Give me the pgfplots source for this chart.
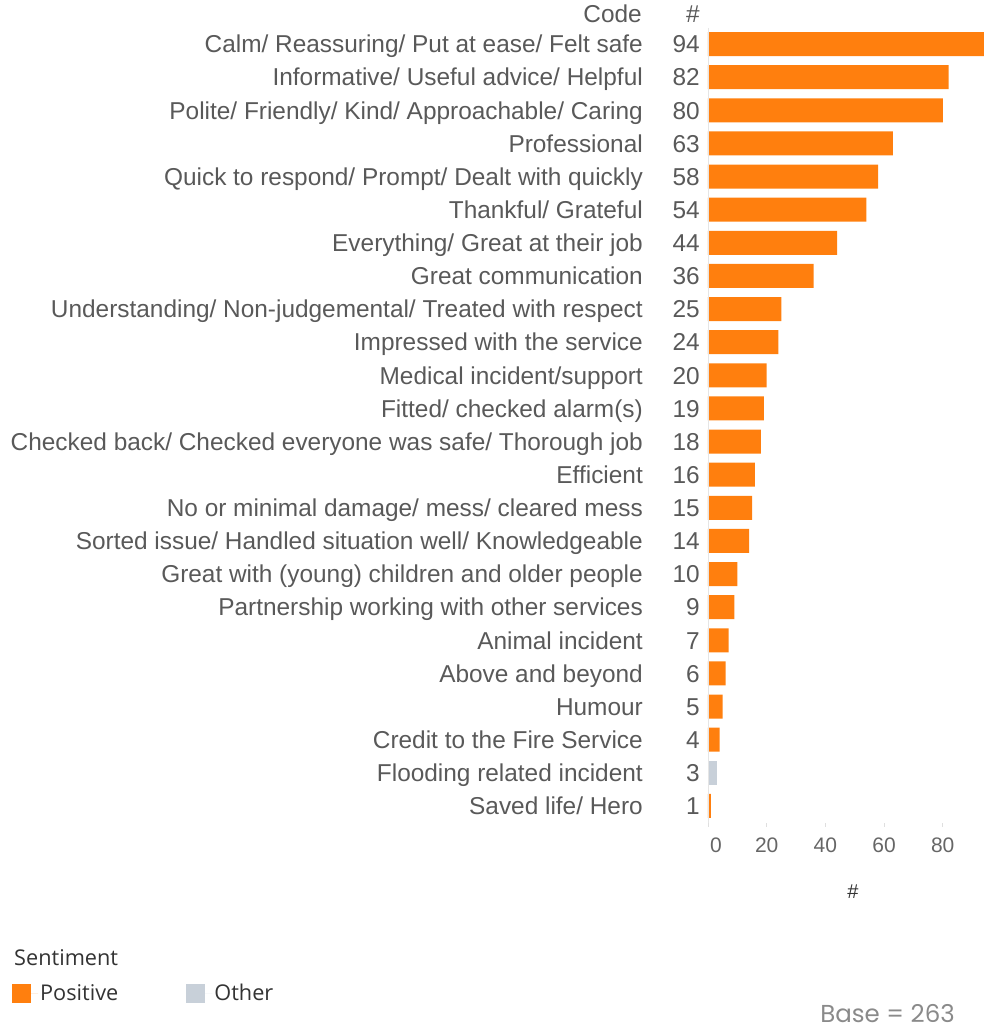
\documentclass[border=0pt]{standalone}
\usepackage{fontspec}
\setmainfont{Liberation Sans}
\newfontfamily\legfont{Open Sans}
\newfontfamily\basefont{Poppins}
\usepackage{pgfplots}
\usepackage{pgfplotstable}
\pgfplotsset{compat=1.18}
\definecolor{posorange}{HTML}{FF7F0E}
\definecolor{othergray}{HTML}{C8D0D9}
\definecolor{labgray}{HTML}{595959}
\definecolor{tickgray}{HTML}{666666}
\definecolor{leggray}{HTML}{333333}
\definecolor{basegray}{HTML}{8A8A8A}

\pgfplotstableread{
y val
0 94
1 82
2 80
3 63
4 58
5 54
6 44
7 36
8 25
9 24
10 20
11 19
12 18
13 16
14 15
15 14
16 10
17 9
18 7
19 6
20 5
21 4
23 1
}\postable
\pgfplotstableread{
y val
22 3
}\othtable

\begin{document}
\begin{tikzpicture}
\path[use as bounding box] (0pt,0pt) rectangle (986pt,-1029pt);
\begin{axis}[
  at={(708pt,-27.5pt)}, anchor=north west,
  scale only axis, width=277.3pt, height=795pt,
  xmin=0, xmax=94.5, ymin=-0.5, ymax=23.5, y dir=reverse,
  axis x line*=bottom, axis y line*=left,
  axis line style={draw=none},
  xtick={20,40,60,80},
  extra x ticks={0},
  extra x tick style={xticklabel style={xshift=8pt}},
  ytick={0,...,23},
  yticklabels={
    {Calm/ Reassuring/ Put at ease/ Felt safe},
    {Informative/ Useful advice/ Helpful},
    {Polite/ Friendly/ Kind/ Approachable/ Caring},
    {Professional},
    {Quick to respond/ Prompt/ Dealt with quickly},
    {Thankful/ Grateful},
    {Everything/ Great at their job},
    {Great communication},
    {Understanding/ Non-judgemental/ Treated with respect},
    {Impressed with the service},
    {Medical incident/support},
    {Fitted/ checked alarm(s)},
    {Checked back/ Checked everyone was safe/ Thorough job},
    {Efficient},
    {No or minimal damage/ mess/ cleared mess},
    {Sorted issue/ Handled situation well/ Knowledgeable},
    {Great with (young) children and older people},
    {Partnership working with other services},
    {Animal incident},
    {Above and beyond},
    {Humour},
    {Credit to the Fire Service},
    {Flooding related incident},
    {Saved life/ Hero}},
  yticklabel style={anchor=base east, inner sep=0pt, xshift=-61pt, yshift=-8.7pt, text=labgray,
    font=\fontsize{24.4}{28}\selectfont},
  ytick style={draw=none},
  xtick style={draw=gray!25, line width=0.6pt},
  tick align=outside, major tick length=4pt,
  xticklabel style={inner sep=0pt, yshift=-11pt, text=tickgray,
    font=\fontsize{21}{25}\selectfont},
  /pgf/number format/assume math mode=true,
  xlabel={\#},
  xlabel style={at={(axis description cs:0.523,-0.087)}, anchor=center,
    font=\fontsize{20}{24}\selectfont, text=leggray},
  legend style={at={(axis description cs:-2.51,-0.2006)}, anchor=north west,
    draw=none, fill=none, inner sep=0pt, legend columns=2,
    font=\legfont\fontsize{21.7}{26}\selectfont, text=leggray,
    /tikz/every even column/.append style={column sep=66pt}},
  legend cell align=left,
]
\addplot[xbar, bar width=24pt, bar shift=0pt, fill=posorange, draw=none,
  legend image code/.code={\fill[posorange] (0pt,-9.5pt) rectangle (19pt,9.5pt); \path (0pt,0pt) -- (26pt,0pt);}]
  table[x=val, y=y] {\postable};
\addlegendentry{Positive}
\addplot[xbar, bar width=24pt, bar shift=0pt, fill=othergray, draw=none,
  legend image code/.code={\fill[othergray] (0pt,-9.5pt) rectangle (19pt,9.5pt); \path (0pt,0pt) -- (26pt,0pt);}]
  table[x=val, y=y] {\othtable};
\addlegendentry{Other}
\addplot[draw=none, mark=none, forget plot, nodes near coords, point meta=explicit,
  every node near coord/.style={anchor=base east, inner sep=0pt, xshift=-8pt, yshift=-8.7pt, text=labgray,
    font=\fontsize{24.4}{28}\selectfont}]
  table[x expr=0, y=y, meta=val] {\postable};
\addplot[draw=none, mark=none, forget plot, nodes near coords, point meta=explicit,
  every node near coord/.style={anchor=base east, inner sep=0pt, xshift=-8pt, yshift=-8.7pt, text=labgray,
    font=\fontsize{24.4}{28}\selectfont}]
  table[x expr=0, y=y, meta=val] {\othtable};
\draw[gray!20, line width=0.8pt] (axis cs:0,-0.5) -- (axis cs:0,23.5);
\end{axis}
\node[anchor=east, inner sep=0pt, text=labgray, font=\fontsize{24.4}{28}\selectfont] at (642pt,-14pt) {Code};
\node[anchor=east, inner sep=0pt, text=labgray, font=\fontsize{24.4}{28}\selectfont] at (700pt,-14pt) {\#};
\node[anchor=west, inner sep=0pt, text=leggray, font=\legfont\fontsize{21.7}{26}\selectfont] at (14pt,-958pt) {Sentiment};
\node[anchor=base east, inner sep=0pt, text depth=0pt, text=basegray, font=\basefont\fontsize{24.5}{28}\selectfont] at (955pt,-1022pt) {Base = 263};
\end{tikzpicture}
\end{document}
